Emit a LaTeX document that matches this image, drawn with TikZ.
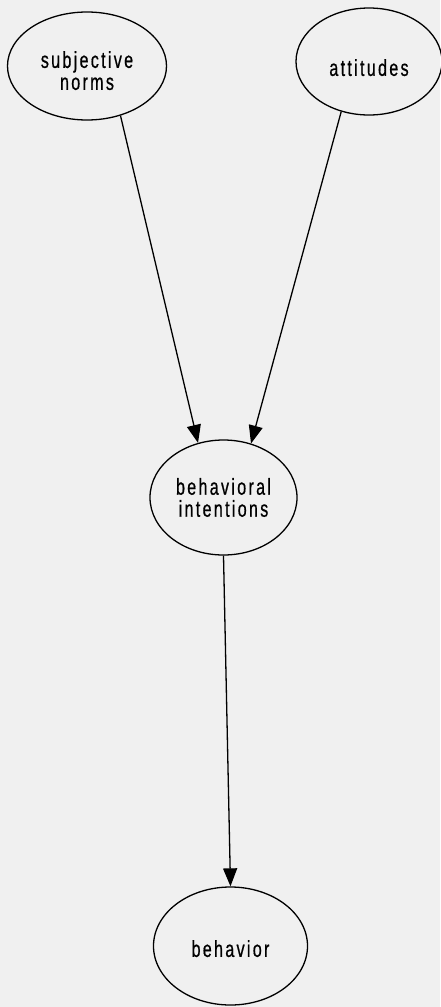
\documentclass[tikz,border=0pt]{standalone}
\usepackage{fontspec}
\usetikzlibrary{shapes.geometric,arrows.meta}
\newfontfamily\labelfont[FakeStretch=0.7,LetterSpace=10,FakeBold=0.6]{Liberation Sans}
\definecolor{paper}{RGB}{240,240,240}
\newcommand{\lowstrut}[1]{\rule{0pt}{#1}}

\begin{document}
\begin{tikzpicture}
  [x=1pt,y=-1pt,line width=1.3pt,>={Triangle[length=18pt,width=14pt]},
   every node/.style={ellipse,draw,inner sep=0pt,align=center,
     font=\labelfont\fontsize{23pt}{22pt}\selectfont}]

  \fill[paper] (0,0) rectangle (440,1007);
  \useasboundingbox (0,0) rectangle (440,1007);

  \node[minimum width=159pt,minimum height=108pt] (norms) at (87,66) {\lowstrut{26pt}subjective\\norms};
  \node[minimum width=146pt,minimum height=107pt] (att) at (369,61.5) {\lowstrut{29pt}attitudes};
  \node[minimum width=147pt,minimum height=115pt] (intent) at (223.5,497.5) {behavioral\\intentions};
  \node[minimum width=154pt,minimum height=118pt] (behav) at (230.5,946) {\lowstrut{22pt}behavior};

  \path[->]
     (norms.-56) edge (intent.115)
     (att.241) edge (intent.63)
     (intent.south) edge (behav.north);

\end{tikzpicture}
\end{document}
